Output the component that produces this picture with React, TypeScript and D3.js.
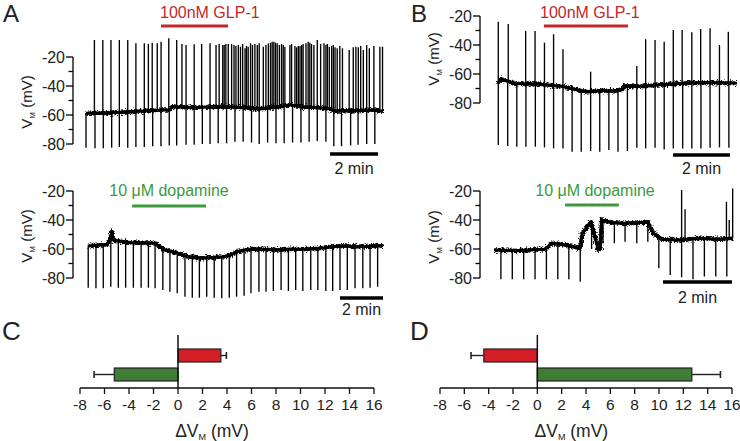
import React from "react";
import * as d3 from "d3";

// ---------- Trace A1: 100 nM GLP-1 (cell A) ----------
const a1BaseT = [0, 0.8, 1.6, 2.4, 3.0, 3.5, 3.58, 4.5, 5.5, 6.2, 7.2, 8.0, 8.5, 9.0, 9.6, 10.1, 10.4, 11.2, 12.0, 12.38];
const a1BaseV = [-58.8, -58.6, -58, -57.2, -56.8, -56.3, -54.3, -54.8, -54.3, -54.5, -55.8, -54.5, -53, -54.5, -54.8, -55.5, -57.3, -57, -56.5, -57.5];
const a1PulseT = [0, 0.375, 0.72, 1.07, 1.39, 1.74, 2.08, 2.43, 2.78, 3.125, 3.47, 3.78, 4.17, 4.51, 4.85, 5.17, 5.51, 5.86, 6.21, 6.55, 6.9, 7.22, 7.57, 7.92, 8.26, 8.61, 8.96, 9.3, 9.64, 10.0, 10.33, 10.65, 11.03, 11.34, 11.7, 12.04];
const a1PulseV = [-82.5, -83, -83, -82.5, -82, -82.5, -82, -82, -81.5, -81.5, -81, -81, -80.5, -80.5, -80, -80, -79.5, -79.5, -78.5, -78.5, -79, -80, -79, -79.5, -79.5, -79, -79, -78.5, -78, -78.5, -81.5, -81.5, -81, -80.5, -80, -80];
const a1SpikeT = [0.35, 0.7, 1.04, 1.39, 1.74, 2.08, 2.43, 2.6, 2.76, 2.97, 3.13, 3.45, 3.78, 4.0, 4.17, 4.51, 4.82, 5.17, 5.42, 5.55, 5.7, 5.76, 5.83, 5.93,
  6.07, 6.17, 6.25, 6.35, 6.44, 6.53, 6.63, 6.69, 6.76, 6.86, 6.94, 7.04, 7.14, 7.22, 7.39, 7.5, 7.6, 7.69, 7.76, 7.83, 7.9, 7.97, 8.06, 8.15, 8.22, 8.29, 8.5, 8.57, 8.71, 8.78,
  8.85, 8.92, 8.99, 9.05, 9.17, 9.26, 9.33, 9.4, 9.5, 9.64, 9.78, 9.92, 10.0, 10.06, 10.14, 10.24, 10.31, 10.38, 10.47, 10.58, 10.69, 10.97, 11.14, 11.25, 11.35, 11.45,
  11.56, 11.7, 11.81, 12.0, 12.25, 12.36];
const a1SpikeV = [-8.3, -8.3, -8.3, -8.3, -8.3, -10.6, -10.6, -11, -10.1, -10.6, -9.4, -7.1, -8.3, -11, -11.7, -11.2, -11, -10.6, -11.7, -11, -11.7, -11.7, -11, -11,
  -11.0, -11.7, -12.4, -11.7, -12.9, -11.0, -14.0, -12.4, -12.9, -10.6, -11.7, -11.0, -11.7, -10.6, -12.9, -11.7, -10.6, -10.1, -9.4, -9.4, -10.1, -10.6, -11.7, -11.0, -11.7, -12.9, -11.7, -11.0, -12.4, -13.3,
  -12.4, -12.4, -11.7, -11.0, -10.6, -9.4, -10.1, -11.0, -11.7, -8.3, -11.0, -10.6, -11.7, -11.0, -12.9, -12.4, -11.7, -13.3, -14.0, -12.4, -14.0, -15.2, -13.3, -12.9, -13.3, -12.4,
  -15.2, -11.7, -14.0, -12.4, -12.9, -12.9];

// ---------- Trace A2: 10 µM dopamine (cell A) ----------
const a2BaseT = [0.02, 0.88, 1.06, 1.1, 1.18, 1.96, 3.15, 3.3, 3.6, 4.2, 4.65, 5.1, 5.7, 6.33, 6.64, 6.95, 7.26, 7.99, 8.74, 9.5, 10.26, 11.0, 11.77, 12.5, 13.7];
const a2BaseV = [-57.7, -57, -53, -48, -54, -55.5, -56, -58.4, -60.7, -63, -65.3, -66, -66, -65.3, -64.1, -61.8, -60.7, -60, -60.7, -60.2, -60, -59.1, -57.7, -58.4, -57.7];
const a2PulseT = [0.01, 0.37, 0.71, 1.06, 1.41, 1.75, 2.11, 2.47, 2.81, 3.12, 3.48, 3.81, 4.15, 4.51, 4.85, 5.18, 5.52, 5.87, 6.22, 6.57, 6.91, 7.26, 7.58, 7.95, 8.28, 8.62, 8.98, 9.32, 9.66, 9.99, 10.36, 10.69, 11.06, 11.38, 11.72, 12.06, 12.42, 12.78, 13.12, 13.47];
const a2PulseV = [-86.7, -87.1, -87.1, -86, -86.7, -86.7, -86.7, -86.7, -86.7, -87.1, -88.3, -89.4, -90.6, -92.9, -93.6, -93.6, -92.9, -93.6, -94, -93.6, -92.9, -92.2, -90.6, -89.4, -89.4, -89, -88.3, -89, -88.3, -89, -88.3, -88.3, -89, -89, -88.3, -88.3, -87.1, -87.1, -86.7, -86];
const a2SpikeT: number[] = [];
const a2SpikeV: number[] = [];

// ---------- Trace B1: 100 nM GLP-1 (cell B) ----------
const b1BaseT = [0, 0.1, 0.6, 1.5, 2.29, 3.11, 3.6, 4.16, 4.38, 4.42, 5.0, 5.57, 6.74, 7.9, 8.35];
const b1BaseV = [-66.4, -63.5, -66.5, -67, -68.7, -72.2, -71.5, -71.5, -70.5, -68.3, -68.5, -67.6, -66, -66, -66.4];
const b1PulseT = [0.01, 0.34, 0.66, 0.98, 1.31, 1.63, 1.95, 2.28, 2.6, 2.92, 3.25, 3.57, 3.89, 4.21, 4.54, 4.87, 5.18, 5.51, 5.83, 6.15, 6.48, 6.8, 7.12, 7.44, 7.77, 8.1];
const b1PulseV = [-109, -109.7, -110.1, -110.1, -110.1, -110.6, -111.3, -111.3, -113.6, -113.6, -113.1, -113.6, -112.4, -113.6, -113.1, -110.8, -111.3, -110.8, -112, -111.3, -111.3, -111.3, -111.3, -110.8, -110.6, -110.8];
const b1SpikeT = [0.01, 0.36, 0.97, 1.3, 1.63, 1.95, 2.28, 3.25, 4.87, 5.18, 5.51, 5.83, 6.15, 6.46, 6.8, 7.11, 7.44, 7.77, 8.08];
const b1SpikeV = [-23.9, -25.5, -30.3, -30.3, -38.4, -32.6, -43, -58.4, -54.5, -36, -36.6, -37.7, -29.7, -29.7, -31.2, -29, -28.5, -40, -30.8];

// ---------- Trace B2: 10 µM dopamine (cell B) ----------
const b2BaseT = [0.01, 0.71, 1.48, 1.67, 2.06, 2.49, 2.56, 2.64, 2.81, 2.93, 3.02, 3.08, 3.12, 3.41, 3.8, 4.18, 4.45, 4.62, 4.86, 5.34, 5.92, 6.5, 6.93];
const b2BaseV = [-60.7, -61.1, -60.2, -56.1, -57.2, -59.5, -49.2, -46.9, -41.2, -51.5, -60.7, -59.5, -40, -41.9, -42.3, -41.9, -41.2, -49.2, -53.3, -53.8, -52.6, -53.3, -52.6];
const b2PulseT = [0.2, 0.53, 0.86, 1.19, 1.52, 1.85, 2.17, 2.5, 2.83, 3.16, 3.49, 3.8, 4.14, 4.46, 4.78, 5.11, 5.44, 5.77, 6.1, 6.43, 6.75];
const b2PulseV = [-80.9, -80.9, -80.9, -80.9, -80.9, -80.9, -80.9, -82.6, -60, -56, -56, -55, -56, -55, -73.3, -77.9, -79.5, -80.9, -79, -79, -79];
const b2SpikeT = [5.44, 5.54, 6.74, 6.82, 6.92];
const b2SpikeV = [-19.3, -32.6, -27.4, -40, -18.2];

// ---------- Drug application windows (min) ----------
const drugs = ["100nM GLP-1", "10 \u03BCM dopamine"];
const a1Drug = [3.125, 5.92];
const a2Drug = [2.05, 5.49];
const b1Drug = [1.61, 4.56];
const b2Drug = [2.06, 3.62];
// scale bars (2 min)
const a1Scale = [10.17, 12.17];
const a2Scale = [11.72, 13.72];
const b1Scale = [6.14, 8.14];
const b2Scale = [4.9, 6.9];

// ---------- Axis ticks ----------
const vmMajor = [-20, -40, -60, -80];
const vmMinor = [-30, -50, -70];
const dvTicks = [-8, -6, -4, -2, 0, 2, 4, 6, 8, 10, 12, 14, 16];

// ---------- Summary bars ----------
const barCats = ["GLP-1", "dopamine"];
const cValues = [3.5, -5.2];
const cErrors = [0.45, 1.65];
const dValues = [-4.4, 12.7];
const dErrors = [1.05, 2.35];

const FONT = "'Liberation Sans', Arial, Helvetica, sans-serif";
const RED = "#c1272d";
const GREEN = "#3c9a3c";
const BAR_RED = "#d11f25";
const BAR_GREEN = "#3e7d33";

type TraceProps = {
  baseT: number[]; baseV: number[];
  pulseT: number[]; pulseV: number[];
  spikeT: number[]; spikeV: number[];
  dur: number; xr: [number, number]; yr: [number, number];
  axisX: number;
  drug: number[]; drugY: number; drugLabel: string; drugColor: string;
  labelX: number; labelY: number; labelAnchor: "start" | "middle";
  scale: number[]; scaleY: number; scaleTextY: number;
  ylabX: number; ylabY: number;
};

function Trace(p: TraceProps) {
  const x = d3.scaleLinear().domain([0, p.dur]).range(p.xr);
  const y = d3.scaleLinear().domain([-20, -80]).range(p.yr);
  const baseAt = d3.scaleLinear().domain(p.baseT).range(p.baseV).clamp(true);
  const line = d3.line<[number, number]>().x((d) => x(d[0])).y((d) => y(d[1]));
  const basePts: [number, number][] = p.baseT.map((t, i) => [t, p.baseV[i]]);
  const events = [
    ...p.pulseT.map((t, i) => ({ t, v: p.pulseV[i] })),
    ...p.spikeT.map((t, i) => ({ t, v: p.spikeV[i] })),
  ];
  const d = line(basePts) || "";
  return (
    <g>
      {/* y axis */}
      <line x1={p.axisX} x2={p.axisX} y1={y(-20)} y2={y(-80)} stroke="#000" strokeWidth={1.3} />
      {vmMajor.map((v) => (
        <g key={v}>
          <line x1={p.axisX - 7} x2={p.axisX} y1={y(v)} y2={y(v)} stroke="#000" strokeWidth={1.3} />
          <text x={p.axisX - 8} y={y(v) + 5.5} textAnchor="end" fontSize={16} fontFamily={FONT} fill="#222">{v}</text>
        </g>
      ))}
      {vmMinor.map((v) => (
        <line key={v} x1={p.axisX - 4.5} x2={p.axisX} y1={y(v)} y2={y(v)} stroke="#000" strokeWidth={1.3} />
      ))}
      <text transform={`translate(${p.ylabX},${p.ylabY}) rotate(-90)`} textAnchor="middle" fontSize={15} fontFamily={FONT} fill="#222">
        V<tspan fontSize={8} dy={3}>M</tspan><tspan dy={-3}> (mV)</tspan>
      </text>
      {/* trace */}
      <path d={d} fill="none" stroke="#000" strokeWidth={3} strokeLinejoin="round" />
      <path d={d} fill="none" stroke="#000" strokeWidth={3.5} strokeLinejoin="round" filter="url(#jag)" />
      <path d={d} fill="none" stroke="#000" strokeWidth={2.5} strokeLinejoin="round" filter="url(#jag2)" />
      {events.map((e, i) => (
        <line key={i} x1={x(e.t)} x2={x(e.t)} y1={y(baseAt(e.t))} y2={y(e.v)} stroke="#000" strokeWidth={1.35} />
      ))}
      {/* drug bar */}
      <line x1={x(p.drug[0])} x2={x(p.drug[1])} y1={p.drugY} y2={p.drugY} stroke={p.drugColor} strokeWidth={3.2} />
      <text x={p.labelX} y={p.labelY} textAnchor={p.labelAnchor} fontSize={16} fontFamily={FONT} fill={p.drugColor}>{p.drugLabel}</text>
      {/* scale bar */}
      <line x1={x(p.scale[0])} x2={x(p.scale[1])} y1={p.scaleY} y2={p.scaleY} stroke="#000" strokeWidth={3.5} />
      <text x={(x(p.scale[0]) + x(p.scale[1])) / 2} y={p.scaleTextY} textAnchor="middle" fontSize={16} fontFamily={FONT} fill="#222">2 min</text>
    </g>
  );
}

type BarProps = { values: number[]; errors: number[]; xr: [number, number] };

function Bars(p: BarProps) {
  const x = d3.scaleLinear().domain([-8, 16]).range(p.xr);
  const yb = d3.scaleBand().domain(barCats).range([346, 384]).paddingInner(0.316).paddingOuter(0.158);
  const axisY = 388;
  const colors = [BAR_RED, BAR_GREEN];
  return (
    <g>
      {barCats.map((c, i) => {
        const v = p.values[i];
        const e = p.errors[i];
        const y0 = yb(c) as number;
        const h = yb.bandwidth();
        const end = v + Math.sign(v) * e;
        const cy = y0 + h / 2;
        return (
          <g key={c}>
            <line x1={x(v)} x2={x(end)} y1={cy} y2={cy} stroke="#222" strokeWidth={1.4} />
            <line x1={x(end)} x2={x(end)} y1={cy - 3.5} y2={cy + 3.5} stroke="#222" strokeWidth={1.6} />
            <rect x={Math.min(x(0), x(v))} y={y0} width={Math.abs(x(v) - x(0))} height={h} fill={colors[i]} stroke="#222" strokeWidth={1.2} />
          </g>
        );
      })}
      <line x1={x(0)} x2={x(0)} y1={335} y2={axisY} stroke="#111" strokeWidth={1.5} />
      <line x1={x(-8)} x2={x(16)} y1={axisY} y2={axisY} stroke="#111" strokeWidth={1.5} />
      {dvTicks.map((t) => (
        <g key={t}>
          <line x1={x(t)} x2={x(t)} y1={axisY} y2={axisY + 6} stroke="#111" strokeWidth={1.3} />
          <text x={x(t)} y={410} textAnchor="middle" fontSize={15.5} fontFamily={FONT} fill="#222">{t}</text>
        </g>
      ))}
      <text x={x(0) + 34} y={437} textAnchor="middle" fontSize={17.5} fontFamily={FONT} fill="#222">
        {"\u0394V"}<tspan fontSize={9} dy={3}>M</tspan><tspan dy={-3}> (mV)</tspan>
      </text>
    </g>
  );
}

export default function App() {
  return (
    <svg width={740} height={441} style={{ position: "absolute", left: 0, top: 0, background: "#fff" }}>
      <defs>
        <filter id="jag" filterUnits="userSpaceOnUse" x={0} y={0} width={740} height={441}>
          <feTurbulence type="fractalNoise" baseFrequency="0.6 0.9" numOctaves={2} seed={4} result="n" />
          <feDisplacementMap in="SourceGraphic" in2="n" scale={7} xChannelSelector="R" yChannelSelector="G" />
        </filter>
        <filter id="jag2" filterUnits="userSpaceOnUse" x={0} y={0} width={740} height={441}>
          <feTurbulence type="fractalNoise" baseFrequency="0.9 0.5" numOctaves={2} seed={11} result="n" />
          <feDisplacementMap in="SourceGraphic" in2="n" scale={7} xChannelSelector="R" yChannelSelector="G" />
        </filter>
      </defs>
      <rect width={740} height={441} fill="#fff" />
      <Trace baseT={a1BaseT} baseV={a1BaseV} pulseT={a1PulseT} pulseV={a1PulseV} spikeT={a1SpikeT} spikeV={a1SpikeV}
        dur={12.38} xr={[86, 383]} yr={[57, 144]} axisX={73}
        drug={a1Drug} drugY={26} drugLabel={drugs[0]} drugColor={RED} labelX={160} labelY={18} labelAnchor="start"
        scale={a1Scale} scaleY={154} scaleTextY={174} ylabX={32} ylabY={102} />
      <Trace baseT={a2BaseT} baseV={a2BaseV} pulseT={a2PulseT} pulseV={a2PulseV} spikeT={a2SpikeT} spikeV={a2SpikeV}
        dur={13.72} xr={[88, 383]} yr={[191, 278]} axisX={73}
        drug={a2Drug} drugY={206} drugLabel={drugs[1]} drugColor={GREEN} labelX={169} labelY={196} labelAnchor="middle"
        scale={a2Scale} scaleY={298} scaleTextY={315} ylabX={32} ylabY={236} />
      <Trace baseT={b1BaseT} baseV={b1BaseV} pulseT={b1PulseT} pulseV={b1PulseV} spikeT={b1SpikeT} spikeV={b1SpikeV}
        dur={8.35} xr={[498, 736]} yr={[16, 103]} axisX={480}
        drug={b1Drug} drugY={26} drugLabel={drugs[0]} drugColor={RED} labelX={540} labelY={18} labelAnchor="start"
        scale={b1Scale} scaleY={155} scaleTextY={174} ylabX={439} ylabY={59} />
      <Trace baseT={b2BaseT} baseV={b2BaseV} pulseT={b2PulseT} pulseV={b2PulseV} spikeT={b2SpikeT} spikeV={b2SpikeV}
        dur={6.93} xr={[494, 733]} yr={[191, 278]} axisX={480}
        drug={b2Drug} drugY={205} drugLabel={drugs[1]} drugColor={GREEN} labelX={595} labelY={196} labelAnchor="middle"
        scale={b2Scale} scaleY={282} scaleTextY={303} ylabX={439} ylabY={237} />
      <Bars values={cValues} errors={cErrors} xr={[80, 374]} />
      <Bars values={dValues} errors={dErrors} xr={[440, 732]} />
      <text x={3} y={22} fontSize={24} fontFamily={FONT} fill="#222">A</text>
      <text x={411} y={22} fontSize={24} fontFamily={FONT} fill="#222">B</text>
      <text x={2} y={340} fontSize={26} fontFamily={FONT} fill="#222">C</text>
      <text x={410} y={340} fontSize={26} fontFamily={FONT} fill="#222">D</text>
    </svg>
  );
}
